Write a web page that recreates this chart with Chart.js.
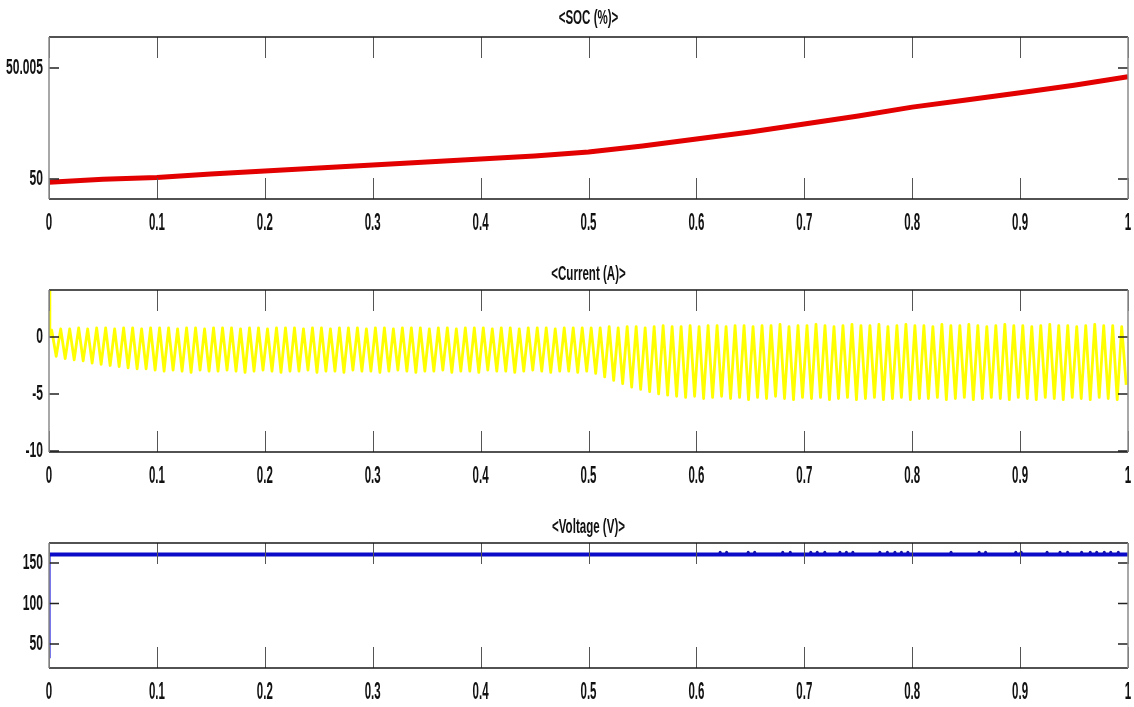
<!DOCTYPE html>
<html>
<head>
<meta charset="utf-8">
<title>Battery SOC, Current and Voltage</title>
<script src="https://cdn.jsdelivr.net/npm/chart.js@4.4.1/dist/chart.umd.min.js"></script>
<style>
  html, body { margin: 0; padding: 0; background: #ffffff; overflow: hidden; }
  #wrap { position: relative; width: 1134px; height: 707px; }
  #wrap canvas { position: absolute; left: 0; top: 0; }
</style>
</head>
<body>
<div id="wrap">
  <canvas id="socChart" width="1134" height="707"></canvas>
  <canvas id="currentChart" width="1134" height="707"></canvas>
  <canvas id="voltageChart" width="1134" height="707"></canvas>
</div>
<script>
// ---- Data (time in seconds) ----
const timeTicks = [0, 0.1, 0.2, 0.3, 0.4, 0.5, 0.6, 0.7, 0.8, 0.9, 1];
const timeTickLabels = ['0', '0.1', '0.2', '0.3', '0.4', '0.5', '0.6', '0.7', '0.8', '0.9', '1'];

// State of charge (%)
const socTime = [0, 0.05, 0.1, 0.15, 0.2, 0.25, 0.3, 0.35, 0.4, 0.45, 0.5,
                 0.55, 0.6, 0.65, 0.7, 0.75, 0.8, 0.85, 0.9, 0.95, 1];
const socValue = [49.99986, 49.99999, 50.00007, 50.00023, 50.00036, 50.0005, 50.00063, 50.00077,
                  50.0009, 50.00104, 50.00122, 50.00149, 50.0018, 50.00212, 50.00248, 50.00284,
                  50.00324, 50.00356, 50.00389, 50.00423, 50.00461];
const socTicks = [50, 50.005];
const socTickLabels = ['50', '50.005'];

// Battery current (A): start-up spike, then one peak and one trough per ripple cycle
const currentStart = [[0, 4.1], [0.0008, 0.2]];
const rippleCycle = 1 / 120;
const currentPeaks = [
  0.6, 0.7, 0.7, 0.8, 0.7, 0.8, 0.8, 0.7, 0.8, 0.8,
  0.7, 0.8, 0.8, 0.8, 0.7, 0.8, 0.8, 0.7, 0.8, 0.8,
  0.8, 0.7, 0.8, 0.8, 0.7, 0.8, 0.8, 0.8, 0.7, 0.8,
  0.8, 0.7, 0.8, 0.8, 0.8, 0.7, 0.8, 0.8, 0.7, 0.8,
  0.8, 0.8, 0.7, 0.8, 0.8, 0.7, 0.8, 0.8, 0.8, 0.7,
  0.8, 0.8, 0.7, 0.8, 0.8, 0.8, 0.7, 0.8, 0.8, 0.8,
  0.8, 0.8, 0.9, 0.8, 0.9, 0.9, 0.8, 0.9, 1.0, 0.9,
  0.9, 1.0, 0.9, 1.0, 1.0, 0.9, 1.0, 1.0, 0.9, 1.0,
  1.0, 1.1, 0.9, 1.0, 1.0, 1.1, 1.0, 0.9, 1.0, 1.1,
  1.0, 1.0, 1.1, 0.9, 1.0, 1.1, 1.0, 1.0, 0.9, 1.1,
  1.0, 1.0, 1.1, 1.0, 0.9, 1.0, 1.1, 1.0, 1.0, 0.9,
  1.0, 1.1, 1.0, 1.0, 0.9, 1.0, 1.1, 1.0, 1.0, 0.9
];
const currentTroughs = [
  -1.7, -1.9, -2.0, -2.1, -2.3, -2.4, -2.5, -2.6, -2.7, -2.8,
  -2.8, -2.9, -3.0, -2.9, -3.0, -3.1, -2.9, -3.0, -3.0, -2.9,
  -3.0, -3.1, -3.0, -2.9, -3.0, -3.1, -3.0, -3.0, -2.9, -3.1,
  -3.0, -3.0, -3.1, -2.9, -3.0, -3.0, -3.1, -3.0, -2.9, -3.0,
  -3.1, -3.0, -3.0, -2.9, -3.1, -3.0, -3.0, -3.1, -2.9, -3.0,
  -3.0, -3.1, -3.0, -2.9, -3.0, -3.1, -3.0, -3.0, -3.1, -3.0,
  -3.2, -3.5, -3.8, -4.1, -4.4, -4.6, -4.8, -5.0, -5.1, -5.2,
  -5.3, -5.2, -5.4, -5.3, -5.2, -5.4, -5.3, -5.5, -5.3, -5.4,
  -5.2, -5.4, -5.5, -5.3, -5.4, -5.3, -5.5, -5.4, -5.3, -5.5,
  -5.4, -5.3, -5.5, -5.4, -5.3, -5.5, -5.4, -5.4, -5.3, -5.5,
  -5.4, -5.3, -5.5, -5.4, -5.3, -5.4, -5.5, -5.3, -5.4, -5.5,
  -5.3, -5.4, -5.5, -5.3, -5.4, -5.5, -5.3, -5.4, -5.5, -4.2
];
const currentTicks = [-10, -5, 0];
const currentTickLabels = ['-10', '-5', '0'];

// Terminal voltage (V)
const voltageTime = [0, 0.0004, 1];
const voltageValue = [34, 160.5, 160.5];
const voltageBlipTime = [0.622, 0.628, 0.648, 0.654, 0.680, 0.687, 0.706, 0.712, 0.719, 0.733,
                         0.739, 0.745, 0.770, 0.777, 0.784, 0.790, 0.796, 0.836, 0.862, 0.868,
                         0.896, 0.901, 0.925, 0.937, 0.944, 0.957, 0.965, 0.971, 0.978, 0.984, 0.991];
const voltageBlipValue = 163.2;
const voltageTicks = [50, 100, 150];
const voltageTickLabels = ['50', '100', '150'];

// ---- Build point lists for the library ----
function pairs(xs, ys) { return xs.map((x, i) => ({ x: x, y: ys[i] })); }

const currentPoints = currentStart.map(p => ({ x: p[0], y: p[1] }));
currentPeaks.forEach((pk, i) => {
  currentPoints.push({ x: (i + 0.3) * rippleCycle, y: pk });
  currentPoints.push({ x: (i + 0.8) * rippleCycle, y: currentTroughs[i] });
});

// ---- Scope-style frame, inward ticks and narrow labels ----
const SQUEEZE_X = 0.5;
const SQUEEZE_Y = 0.55;
const SQUEEZE_T = 0.55;

function squeezedText(ctx, text, x, y, sx, align) {
  ctx.save();
  ctx.translate(x, y);
  ctx.scale(sx, 1);
  ctx.textAlign = align;
  ctx.textBaseline = 'middle';
  ctx.fillText(text, 0, 0);
  ctx.restore();
}

const scopePlugin = {
  id: 'scopeFrame',
  afterDatasetsDraw(chart, args, opts) {
    const ctx = chart.ctx;
    const a = chart.chartArea;
    const xs = chart.scales.x, ys = chart.scales.y;
    ctx.save();
    // x ticks pointing inward from top and bottom edges
    ctx.strokeStyle = '#555555';
    ctx.lineWidth = 1;
    timeTicks.forEach(v => {
      const px = Math.round(xs.getPixelForValue(v)) + 0.5;
      ctx.beginPath();
      ctx.moveTo(px, a.top); ctx.lineTo(px, a.top + 21);
      ctx.moveTo(px, a.bottom); ctx.lineTo(px, a.bottom - 21);
      ctx.stroke();
    });
    // y ticks pointing inward from left and right edges
    ctx.strokeStyle = '#222222';
    ctx.lineWidth = 1.5;
    opts.yTicks.forEach(v => {
      const py = ys.getPixelForValue(v);
      ctx.beginPath();
      ctx.moveTo(a.left, py); ctx.lineTo(a.left + 10, py);
      ctx.moveTo(a.right, py); ctx.lineTo(a.right - 10, py);
      ctx.stroke();
    });
    // box
    ctx.lineWidth = 1.5;
    ctx.strokeStyle = '#1a1a1a';
    ctx.beginPath();
    ctx.moveTo(a.left, a.top); ctx.lineTo(a.right, a.top);
    ctx.moveTo(a.left, a.bottom); ctx.lineTo(a.right, a.bottom);
    ctx.stroke();
    ctx.strokeStyle = '#8c8c8c';
    ctx.beginPath();
    ctx.moveTo(a.left, a.top); ctx.lineTo(a.left, a.bottom);
    ctx.moveTo(a.right, a.top); ctx.lineTo(a.right, a.bottom);
    ctx.stroke();
    ctx.restore();
  },
  afterDraw(chart, args, opts) {
    const ctx = chart.ctx;
    const a = chart.chartArea;
    const xs = chart.scales.x, ys = chart.scales.y;
    ctx.save();
    ctx.fillStyle = '#111111';
    ctx.font = 'bold 23px "Liberation Sans", Arial, sans-serif';
    timeTicks.forEach((v, i) => {
      squeezedText(ctx, timeTickLabels[i], xs.getPixelForValue(v), a.bottom + 25, SQUEEZE_X, 'center');
    });
    ctx.font = 'bold 22px "Liberation Sans", Arial, sans-serif';
    opts.yTicks.forEach((v, i) => {
      squeezedText(ctx, opts.yLabels[i], a.left - 6, ys.getPixelForValue(v), SQUEEZE_Y, 'right');
    });
    ctx.font = 'bold 21px "Liberation Sans", Arial, sans-serif';
    squeezedText(ctx, opts.title, (a.left + a.right) / 2, a.top - opts.titleGap, SQUEEZE_T, 'center');
    ctx.restore();
  }
};

function scopeOptions(top, bottom, yMin, yMax, yTicks, yLabels, title, titleGap) {
  return {
    responsive: false,
    animation: false,
    events: [],
    layout: { padding: { left: 49, right: 6, top: top, bottom: 707 - bottom } },
    scales: {
      x: { type: 'linear', min: 0, max: 1, display: false },
      y: { type: 'linear', min: yMin, max: yMax, display: false }
    },
    plugins: {
      legend: { display: false },
      tooltip: { enabled: false },
      title: { display: false },
      scopeFrame: { yTicks: yTicks, yLabels: yLabels, title: title, titleGap: titleGap }
    },
    elements: { point: { radius: 0 }, line: { tension: 0 } }
  };
}

new Chart(document.getElementById('socChart'), {
  type: 'scatter',
  data: {
    datasets: [{
      label: 'SOC (%)',
      data: pairs(socTime, socValue),
      showLine: true,
      borderColor: '#e30000',
      borderWidth: 5,
      borderJoinStyle: 'round',
      pointRadius: 0
    }]
  },
  options: scopeOptions(37, 199, 49.9991, 50.0064, socTicks, socTickLabels, '<SOC (%)>', 19),
  plugins: [scopePlugin]
});

new Chart(document.getElementById('currentChart'), {
  type: 'scatter',
  data: {
    datasets: [{
      label: 'Current (A)',
      data: currentPoints,
      showLine: true,
      borderColor: '#ffff00',
      borderWidth: 2.8,
      borderJoinStyle: 'round',
      pointRadius: 0
    }]
  },
  options: scopeOptions(290, 452, -10.09, 4.12, currentTicks, currentTickLabels, '<Current (A)>', 16),
  plugins: [scopePlugin]
});

new Chart(document.getElementById('voltageChart'), {
  type: 'scatter',
  data: {
    datasets: [{
      label: 'Voltage (V)',
      data: pairs(voltageTime, voltageValue),
      showLine: true,
      borderColor: '#0c0cc8',
      borderWidth: 4,
      segment: {
        // the start-up rise is drawn as a thin trace, the steady level as a thick one
        borderWidth: c => (c.p0DataIndex === 0 ? 2.5 : 4),
        borderColor: c => (c.p0DataIndex === 0 ? '#3a3ae0' : '#0c0cc8')
      },
      pointRadius: 0
    }, {
      label: 'Voltage blips',
      data: voltageBlipTime.map(t => ({ x: t, y: voltageBlipValue })),
      showLine: false,
      pointRadius: 1.5,
      pointBackgroundColor: '#16169a',
      pointBorderWidth: 0
    }]
  },
  options: scopeOptions(543, 668, 20.4, 174.7, voltageTicks, voltageTickLabels, '<Voltage (V)>', 16),
  plugins: [scopePlugin]
});
</script>
</body>
</html>
